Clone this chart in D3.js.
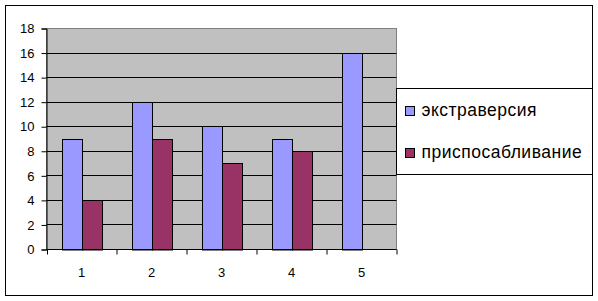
<!DOCTYPE html>
<html lang="ru">
<head>
<meta charset="utf-8">
<script src="https://cdn.jsdelivr.net/npm/d3@7"></script>
<style>
  body { margin: 0; background: #fff; }
  text { font-family: "Liberation Sans", Arial, sans-serif; }
</style>
</head>
<body>
<script>
var categories = ["1", "2", "3", "4", "5"];
var seriesNames = ["экстраверсия", "приспосабливание"];
var extraversion = [9, 12, 10, 9, 16];
var adaptation = [4, 9, 7, 8, null];
var yTicks = [0, 2, 4, 6, 8, 10, 12, 14, 16, 18];
var colors = ["#9999FF", "#993366"];

var w = 598, h = 301;
var plot = { left: 46.5, top: 28.5, right: 396.5, bottom: 249.5 };

var svg = d3.select("body").append("svg")
  .attr("width", w).attr("height", h);

// outer chart border
svg.append("rect")
  .attr("x", 5.5).attr("y", 5.5)
  .attr("width", 587).attr("height", 290)
  .attr("fill", "#fff").attr("stroke", "#000");

var x = d3.scaleBand()
  .domain(categories)
  .range([plot.left, plot.right])
  .paddingInner(3 / 7)
  .paddingOuter(3 / 14);

var xs = d3.scaleBand()
  .domain([0, 1])
  .range([0, x.bandwidth()]);

var y = d3.scaleLinear()
  .domain([0, 18])
  .range([plot.bottom, plot.top]);

// plot area
svg.append("rect")
  .attr("x", plot.left).attr("y", plot.top)
  .attr("width", plot.right - plot.left)
  .attr("height", plot.bottom - plot.top)
  .attr("fill", "#C0C0C0")
  .attr("stroke", "#808080");

// gridlines
svg.append("g").selectAll("line")
  .data(yTicks.filter(function(d) { return d > 0 && d < 18; }))
  .enter().append("line")
  .attr("x1", plot.left).attr("x2", plot.right)
  .attr("y1", function(d) { return Math.round(y(d) - 0.5) + 0.5; })
  .attr("y2", function(d) { return Math.round(y(d) - 0.5) + 0.5; })
  .attr("stroke", "#000");

// bars
var series = [extraversion, adaptation];
series.forEach(function(vals, si) {
  svg.append("g").selectAll("rect")
    .data(vals.map(function(v, i) { return { c: categories[i], v: v }; })
      .filter(function(d) { return d.v != null; }))
    .enter().append("rect")
    .attr("x", function(d) { return Math.round(x(d.c) + xs(si)) + 0.5; })
    .attr("y", function(d) { return Math.round(y(d.v) - 0.5) + 0.5; })
    .attr("width", xs.bandwidth())
    .attr("height", function(d) { return Math.round(y(0)) - Math.round(y(d.v) - 0.5) - 0.5; })
    .attr("fill", colors[si])
    .attr("stroke", "#000");
});

// axes
var yAxis = d3.axisLeft(y).tickValues(yTicks).tickSize(5).tickPadding(7);
var gy = svg.append("g")
  .attr("transform", "translate(" + plot.left + ",0)")
  .call(yAxis);
gy.select(".domain").attr("stroke", "#000");
gy.selectAll("text").attr("font-size", "13px").attr("fill", "#000")
  .attr("font-family", "Liberation Sans, Arial, sans-serif");

var xAxis = d3.axisBottom(x).tickSize(0).tickPadding(18);
var gx = svg.append("g")
  .attr("transform", "translate(0," + plot.bottom + ")")
  .call(xAxis);
gx.select(".domain").remove();
gx.selectAll("line").remove();
gx.selectAll("text").attr("font-size", "13px").attr("fill", "#000")
  .attr("font-family", "Liberation Sans, Arial, sans-serif");
gx.append("line")
  .attr("x1", plot.left).attr("x2", plot.right)
  .attr("stroke", "#000");
gx.selectAll(".sep")
  .data(d3.range(categories.length + 1))
  .enter().append("line")
  .attr("class", "sep")
  .attr("x1", function(i) { return Math.round(plot.left + i * x.step()) + 0.5 - 0.5 * (i === 0 ? 0 : 1); })
  .attr("x2", function(i) { return Math.round(plot.left + i * x.step()) + 0.5 - 0.5 * (i === 0 ? 0 : 1); })
  .attr("y1", 0).attr("y2", 5)
  .attr("stroke", "#000");

// legend
var lg = svg.append("g");
lg.append("rect")
  .attr("x", 396.5).attr("y", 88.5)
  .attr("width", 196).attr("height", 86)
  .attr("fill", "#fff").attr("stroke", "#000");
var items = lg.selectAll(".item")
  .data(seriesNames)
  .enter().append("g")
  .attr("class", "item")
  .attr("transform", function(d, i) { return "translate(0," + (116 + i * 42) + ")"; });
items.append("rect")
  .attr("x", 405.5).attr("y", -9.5)
  .attr("width", 9).attr("height", 9)
  .attr("fill", function(d, i) { return colors[i]; })
  .attr("stroke", "#000");
items.append("text")
  .attr("x", 421.5).attr("y", 0)
  .attr("font-size", "17.5px")
  .attr("letter-spacing", "0.5px")
  .text(function(d) { return d; });
</script>
</body>
</html>
